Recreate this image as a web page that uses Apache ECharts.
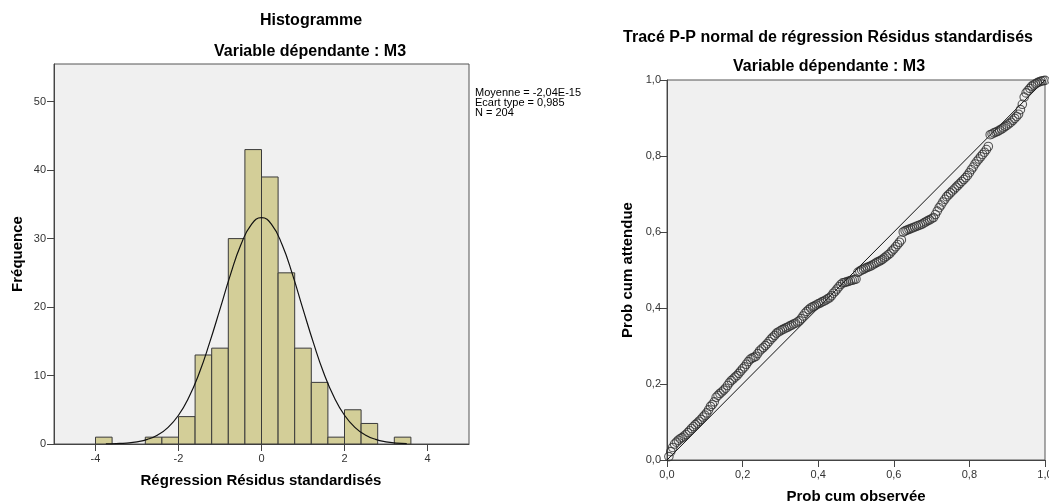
<!DOCTYPE html>
<html><head><meta charset="utf-8">
<script src="https://cdn.jsdelivr.net/npm/echarts@6/dist/echarts.min.js"></script>
<style>html,body{margin:0;padding:0;background:#fff}#c{width:1049px;height:504px}</style>
</head><body><div id="c"></div>
<script>
// ---- Histogram data ----
const binLower  = [-4.0, -2.8, -2.4, -2.0, -1.6, -1.2, -0.8, -0.4, 0.0, 0.4, 0.8, 1.2, 1.6, 2.0, 2.4, 3.2];
const binCounts = [1, 1, 1, 4, 13, 14, 30, 43, 39, 25, 14, 9, 1, 5, 3, 1];
const binWidth = 0.4;
const histXTicks = [-4, -2, 0, 2, 4];
const histYTicks = [0, 10, 20, 30, 40, 50];
// normal curve overlay
const curveX = [-3.75,-3.5,-3.25,-3.0,-2.75,-2.5,-2.25,-2.0,-1.75,-1.5,-1.25,-1.0,-0.75,-0.5,-0.25,0,0.25,0.5,0.75,1.0,1.25,1.5,1.75,2.0,2.25,2.5,2.75,3.0,3.25,3.5];
const curveY = [0.02,0.06,0.14,0.32,0.67,1.32,2.43,4.20,6.82,10.36,14.8,19.7,24.7,29.05,32.0,33.05,32.0,29.05,24.7,19.7,14.8,10.36,6.82,4.20,2.43,1.32,0.67,0.32,0.14,0.06];
const statsLines = ['Moyenne = -2,04E-15', 'Ecart type = 0,985', 'N = 204'];

// ---- P-P plot data ----
const ppObserved = [
  0.005,0.010,0.015,0.020,0.025,0.030,0.035,0.040,0.045,0.050,
  0.055,0.060,0.065,0.070,0.075,0.080,0.085,0.090,0.095,0.100,
  0.105,0.110,0.115,0.120,0.125,0.130,0.135,0.140,0.145,0.150,
  0.155,0.160,0.165,0.170,0.175,0.180,0.185,0.190,0.195,0.200,
  0.205,0.210,0.215,0.220,0.225,0.230,0.235,0.240,0.245,0.250,
  0.255,0.260,0.265,0.270,0.275,0.280,0.285,0.290,0.295,0.300,
  0.305,0.310,0.315,0.320,0.325,0.330,0.335,0.340,0.345,0.350,
  0.355,0.360,0.365,0.370,0.375,0.380,0.385,0.390,0.395,0.400,
  0.405,0.410,0.415,0.420,0.425,0.430,0.435,0.440,0.445,0.450,
  0.455,0.460,0.465,0.470,0.475,0.480,0.485,0.490,0.495,0.500,
  0.505,0.510,0.515,0.520,0.525,0.530,0.535,0.540,0.545,0.550,
  0.555,0.560,0.565,0.570,0.575,0.580,0.585,0.590,0.595,0.600,
  0.605,0.610,0.615,0.620,0.625,0.630,0.635,0.640,0.645,0.650,
  0.655,0.660,0.665,0.670,0.675,0.680,0.685,0.690,0.695,0.700,
  0.705,0.710,0.715,0.720,0.725,0.730,0.735,0.740,0.745,0.750,
  0.755,0.760,0.765,0.770,0.775,0.780,0.785,0.790,0.795,0.800,
  0.805,0.810,0.815,0.820,0.825,0.830,0.835,0.840,0.845,0.850,
  0.855,0.860,0.865,0.870,0.875,0.880,0.885,0.890,0.895,0.900,
  0.905,0.910,0.915,0.920,0.925,0.930,0.935,0.940,0.945,0.950,
  0.955,0.960,0.965,0.970,0.975,0.980,0.985,0.990,0.995,1.000];
const ppExpected = [
  0.009,0.022,0.033,0.042,0.047,0.052,0.056,0.059,0.063,0.067,
  0.072,0.077,0.083,0.088,0.093,0.097,0.102,0.107,0.113,0.118,
  0.124,0.132,0.141,0.146,0.153,0.165,0.170,0.175,0.179,0.184,
  0.189,0.196,0.203,0.209,0.213,0.218,0.222,0.228,0.234,0.240,
  0.245,0.252,0.259,0.265,0.268,0.270,0.273,0.280,0.287,0.292,
  0.296,0.301,0.306,0.312,0.318,0.323,0.328,0.334,0.337,0.340,
  0.343,0.345,0.348,0.350,0.353,0.355,0.358,0.360,0.363,0.366,
  0.372,0.379,0.386,0.391,0.396,0.400,0.403,0.405,0.408,0.411,
  0.413,0.416,0.418,0.421,0.424,0.427,0.432,0.439,0.444,0.450,
  0.456,0.462,0.466,0.467,0.469,0.470,0.472,0.473,0.475,0.476,
  0.494,0.497,0.500,0.502,0.505,0.507,0.509,0.511,0.514,0.517,
  0.520,0.522,0.525,0.528,0.532,0.536,0.540,0.544,0.550,0.555,
  0.561,0.567,0.573,0.579,0.600,0.603,0.605,0.607,0.609,0.611,
  0.613,0.615,0.617,0.619,0.621,0.624,0.627,0.630,0.632,0.635,
  0.638,0.646,0.655,0.664,0.671,0.679,0.686,0.693,0.698,0.703,
  0.708,0.713,0.718,0.723,0.728,0.733,0.738,0.743,0.749,0.756,
  0.764,0.771,0.779,0.786,0.792,0.798,0.804,0.810,0.817,0.825,
  0.856,0.858,0.861,0.863,0.865,0.868,0.871,0.874,0.878,0.881,
  0.885,0.889,0.894,0.899,0.904,0.910,0.922,0.936,0.955,0.966,
  0.972,0.978,0.984,0.987,0.990,0.993,0.995,0.997,0.998,0.999];
const ppTicks = [0, 0.2, 0.4, 0.6, 0.8, 1.0];
const refLine = [[0, 0], [1, 1]];

const FONT = 'Liberation Sans';
const labelStyle = {color: '#333', fontSize: 11, fontFamily: FONT};
const axisLineStyle = {lineStyle: {color: '#444', width: 1}};
const tickStyle = {show: true, length: 7, lineStyle: {color: '#444'}};

const chart = echarts.init(document.getElementById('c'), null, {renderer: 'canvas'});

const histData = binLower.map((b, i) => [b, b + binWidth, binCounts[i]]);
const curveData = curveX.map((x, i) => [x, curveY[i]]);
const ppData = ppObserved.map((x, i) => [x, ppExpected[i]]);
const commaFmt = v => v.toFixed(1).replace('.', ',');

function titleText(text, x, y, size, rot) {
  return {type: 'text', x: x, y: y, rotation: rot || 0,
    style: {text: text, font: 'bold ' + size + 'px "' + FONT + '"', fill: '#000',
      align: 'center', verticalAlign: 'middle'}};
}

chart.setOption({
  animation: false,
  backgroundColor: '#fff',
  grid: [
    {left: 54, top: 64, width: 415, height: 380, show: true, backgroundColor: '#f0f0f0', borderColor: '#555', borderWidth: 1, outerBoundsMode: 'none', containLabel: false},
    {left: 667, top: 80, width: 378, height: 380, show: true, backgroundColor: '#f0f0f0', borderColor: '#555', borderWidth: 1, outerBoundsMode: 'none', containLabel: false}
  ],
  xAxis: [
    {type: 'value', gridIndex: 0, min: -5, max: 5,
      axisLine: axisLineStyle, splitLine: {show: false},
      axisTick: Object.assign({customValues: histXTicks}, tickStyle),
      axisLabel: Object.assign({customValues: histXTicks, margin: 9}, labelStyle)},
    {type: 'value', gridIndex: 1, min: 0, max: 1, interval: 0.2,
      axisLine: axisLineStyle, splitLine: {show: false},
      axisTick: tickStyle,
      axisLabel: Object.assign({margin: 9, formatter: commaFmt}, labelStyle)}
  ],
  yAxis: [
    {type: 'value', gridIndex: 0, min: 0, max: 55.5,
      axisLine: Object.assign({show: true, onZero: false}, axisLineStyle), splitLine: {show: false},
      axisTick: Object.assign({customValues: histYTicks}, tickStyle),
      axisLabel: Object.assign({customValues: histYTicks, margin: 8}, labelStyle)},
    {type: 'value', gridIndex: 1, min: 0, max: 1, interval: 0.2,
      axisLine: Object.assign({show: true, onZero: false}, axisLineStyle), splitLine: {show: false},
      axisTick: tickStyle,
      axisLabel: Object.assign({margin: 6, formatter: commaFmt}, labelStyle)}
  ],
  series: [
    {type: 'custom', xAxisIndex: 0, yAxisIndex: 0, data: histData, z: 2,
      renderItem: function (params, api) {
        const p0 = api.coord([api.value(0), api.value(2)]);
        const p1 = api.coord([api.value(1), 0]);
        return {type: 'rect',
          shape: {x: p0[0], y: p0[1], width: p1[0] - p0[0], height: p1[1] - p0[1]},
          style: {fill: '#d3ce98', stroke: '#3a3a3a', lineWidth: 1}};
      }},
    {type: 'line', xAxisIndex: 0, yAxisIndex: 0, data: curveData, smooth: true, showSymbol: false, z: 3,
      lineStyle: {color: '#111', width: 1.2}},
    {type: 'line', xAxisIndex: 1, yAxisIndex: 1, data: refLine, showSymbol: false, z: 2,
      lineStyle: {color: '#111', width: 1}},
    {type: 'scatter', xAxisIndex: 1, yAxisIndex: 1, data: ppData, z: 3,
      symbol: 'circle', symbolSize: 8.5,
      itemStyle: {color: 'rgba(0,0,0,0)', borderColor: '#2e2e2e', borderWidth: 1.1}}
  ],
  graphic: [
    titleText('Histogramme', 311, 21, 16),
    titleText('Variable dépendante : M3', 310, 52, 16),
    titleText('Fréquence', 18, 254, 15, Math.PI / 2),
    titleText('Régression Résidus standardisés', 261, 481, 15),
    titleText('Tracé P-P normal de régression Résidus standardisés', 828, 38, 16),
    titleText('Variable dépendante : M3', 829, 67, 16),
    titleText('Prob cum attendue', 628, 270, 15, Math.PI / 2),
    titleText('Prob cum observée', 856, 497, 15),
    {type: 'text', x: 475, y: 88,
      style: {text: statsLines.join('\n'), font: '11px "' + FONT + '"', lineHeight: 10, fill: '#000', align: 'left', verticalAlign: 'top'}}
  ]
});
</script>
</body></html>
